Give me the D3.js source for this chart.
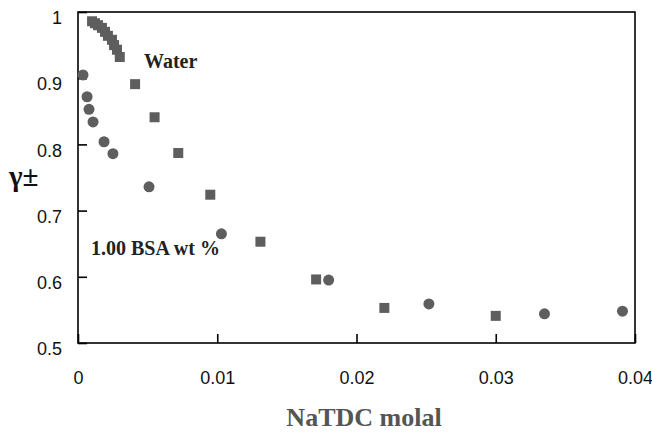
<!DOCTYPE html>
<html><head><meta charset="utf-8">
<script src="https://cdn.jsdelivr.net/npm/d3@7"></script>
<style>body{margin:0;background:#fff}svg{display:block}</style>
</head><body>
<script>
const waterX = [0.00101,0.00122,0.00144,0.00172,0.00194,0.00215,0.00244,0.00259,0.0028,0.0030,0.0041,0.0055,0.0072,0.0095,0.0131,0.0171,0.0220,0.0300];
const waterY = [0.986,0.983,0.980,0.976,0.970,0.964,0.958,0.950,0.943,0.932,0.891,0.841,0.787,0.724,0.653,0.596,0.553,0.541];
const bsaX = [0.00036,0.00065,0.00079,0.00108,0.00187,0.00251,0.0051,0.0103,0.0180,0.0252,0.0335,0.0391];
const bsaY = [0.905,0.872,0.853,0.834,0.804,0.786,0.736,0.665,0.595,0.559,0.544,0.548];
const xTicks = [0,0.01,0.02,0.03,0.04];
const yTicks = [0.5,0.6,0.7,0.8,0.9,1];

const W=652,H=432, L=78,R=635,T=12,B=343;
const svg=d3.select("body").append("svg").attr("width",W).attr("height",H);
const x=d3.scaleLinear().domain([0,0.04]).range([L,R]);
const y=d3.scaleLinear().domain([0.5,1]).range([B,T]);
const mark="#5e5e5e";

svg.append("rect").attr("x",L).attr("y",T).attr("width",R-L).attr("height",B-T)
  .attr("fill","none").attr("stroke","#000").attr("stroke-width",1.6);

const fmt=d=>d===0?"0":(d===1?"1":String(d));
const xa=svg.append("g").attr("transform",`translate(0,${B})`)
  .call(d3.axisBottom(x).tickValues(xTicks).tickFormat(fmt).tickSizeInner(-9).tickSizeOuter(0).tickPadding(28));
const ya=svg.append("g").attr("transform",`translate(${L},0)`)
  .call(d3.axisLeft(y).tickValues(yTicks).tickFormat(fmt).tickSizeInner(-9).tickSizeOuter(0).tickPadding(16));
[xa,ya].forEach(g=>{
  g.select(".domain").remove();
  g.selectAll("line").attr("stroke","#000").attr("stroke-width",1.6);
  g.selectAll("text").attr("font-family","Liberation Sans, Arial, sans-serif").attr("font-size",18).attr("fill","#111");
});
ya.selectAll("text").attr("dy","0.65em");

const s=10;
svg.append("g").selectAll("rect").data(waterX).join("rect")
  .attr("x",(d)=>x(d)-s/2).attr("y",(d,i)=>y(waterY[i])-s/2)
  .attr("width",s).attr("height",s).attr("fill",mark);
svg.append("g").selectAll("circle").data(bsaX).join("circle")
  .attr("cx",d=>x(d)).attr("cy",(d,i)=>y(bsaY[i])).attr("r",5.5).attr("fill",mark);

const serif="Liberation Serif, Times New Roman, serif";
svg.append("text").attr("x",144).attr("y",68).attr("font-family",serif).attr("font-weight","bold")
  .attr("font-size",20).attr("fill","#222").text("Water");
svg.append("text").attr("x",91).attr("y",255).attr("font-family",serif).attr("font-weight","bold")
  .attr("font-size",20).attr("fill","#222").text("1.00 BSA wt %");
svg.append("text").attr("x",364).attr("y",426).attr("text-anchor","middle").attr("font-family",serif).attr("font-weight","bold")
  .attr("font-size",26).attr("fill","#555").text("NaTDC molal");
svg.append("text").attr("x",9).attr("y",186).attr("font-family",serif).attr("font-weight","bold")
  .attr("font-size",29).attr("fill","#111").text("γ±");
</script>
</body></html>
